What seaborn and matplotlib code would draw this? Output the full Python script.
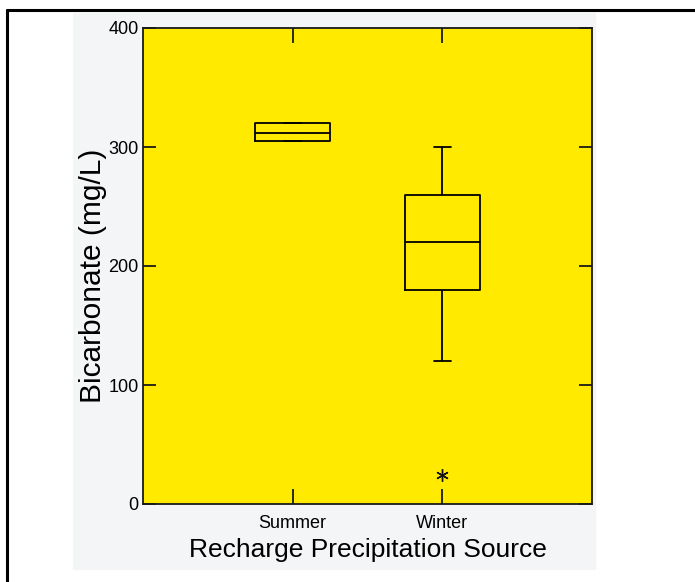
import numpy as np
import pandas as pd
import matplotlib
matplotlib.use("Agg")
import matplotlib.pyplot as plt
from matplotlib.patches import Rectangle
from matplotlib.lines import Line2D
import seaborn as sns

# valores (mg/L)
summer_vals = [305, 305, 312, 320, 320]
winter_vals = [24, 120, 180, 200, 220, 240, 260, 280, 300]
categories = ["Summer", "Winter"]
y_ticks = [0, 100, 200, 300, 400]

df = pd.DataFrame({
    "source": ["Summer"] * len(summer_vals) + ["Winter"] * len(winter_vals),
    "bicarb": summer_vals + winter_vals,
})

sns.set_style("ticks")
plt.rcParams["font.family"] = ["Liberation Sans", "DejaVu Sans"]
plt.rcParams["text.color"] = "black"
plt.rcParams["axes.labelcolor"] = "black"
plt.rcParams["xtick.labelcolor"] = "black"
plt.rcParams["ytick.labelcolor"] = "black"

fig = plt.figure(figsize=(6.95, 5.82), dpi=100)
W, H = 695, 582

# fondo gris claro del escaneo y marco exterior
fig.patches.append(Rectangle((73 / W, 1 - 569 / H), (595 - 73) / W, (569 - 13) / H,
                             transform=fig.transFigure, color="#f4f5f6", zorder=-5))
fig.lines.append(Line2D([7 / W, 1.0], [1 - 10 / H, 1 - 10 / H], transform=fig.transFigure,
                        color="black", linewidth=2.2, zorder=-4))
fig.lines.append(Line2D([7 / W, 7 / W], [0.0, 1 - 10 / H], transform=fig.transFigure,
                        color="black", linewidth=2.2, zorder=-4))

ax = fig.add_axes([143 / W, 1 - 504 / H, (592 - 143) / W, (504 - 28) / H])
ax.set_facecolor("#ffea00")

sns.boxplot(
    data=df, x="source", y="bicarb", order=categories, ax=ax,
    width=0.5, fill=False, color="black", linecolor="#111111", linewidth=1.3,
    capwidths=0.11,
    flierprops={"marker": (6, 2, 0), "markersize": 9, "markeredgecolor": "#111111",
                "markeredgewidth": 1.0},
)

ax.set_xlim(-1, 2)
ax.set_ylim(0, 400)
ax.set_yticks(y_ticks)

for s in ax.spines.values():
    s.set_visible(True)
    s.set_color("#1a1a1a")
    s.set_linewidth(1.3)

ax.tick_params(axis="y", direction="in", length=9.5, width=1.3, left=True, right=True,
               labelsize=13, pad=3, color="#1a1a1a")
ax.tick_params(axis="x", direction="in", length=11, width=1.3, top=True, bottom=True,
               labelsize=13, pad=8, color="#1a1a1a")

ax.set_xlabel("Recharge Precipitation Source", fontsize=19)
ax.set_ylabel("Bicarbonate (mg/L)", fontsize=21.5)
ax.xaxis.set_label_coords(0.5, -0.072)
ax.yaxis.set_label_coords(-0.08, 0.48)

fig.savefig("out.png", dpi=100)
